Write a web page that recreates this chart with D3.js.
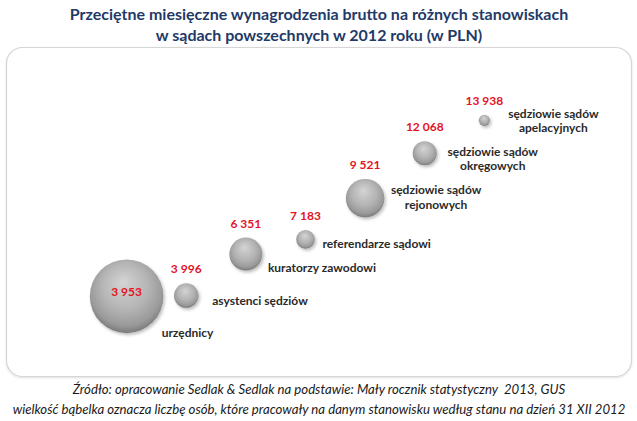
<!DOCTYPE html>
<html>
<head>
<meta charset="utf-8">
<script src="https://cdn.jsdelivr.net/npm/d3@7"></script>
<style>
  html, body { margin: 0; padding: 0; background: #ffffff; }
  svg { display: block; }
  text { white-space: pre; }
</style>
</head>
<body>
<script>
// ---------------- DATA ----------------
const categories = [
  "urzędnicy",
  "asystenci sędziów",
  "kuratorzy zawodowi",
  "referendarze sądowi",
  "sędziowie sądów\nrejonowych",
  "sędziowie sądów\nokręgowych",
  "sędziowie sądów\napelacyjnych"
];
const wages = [3953, 3996, 6351, 7183, 9521, 12068, 13938];          // PLN (y)
const headcounts = [23300, 2600, 4700, 1500, 6400, 2500, 540];      // bubble size (persons, estimated)
const titleLines = [
  "Przeciętne miesięczne wynagrodzenia brutto na różnych stanowiskach",
  "w sądach powszechnych w 2012 roku (w PLN)"
];
const footerLines = [
  "Źródło: opracowanie Sedlak & Sedlak na podstawie: Mały rocznik statystyczny  2013, GUS",
  "wielkość bąbelka oznacza liczbę osób, które pracowały na danym stanowisku według stanu na dzień 31 XII 2012"
];

// ---------------- LAYOUT (label placement relative to bubbles) ----------------
const catLabelLayout = [
  {anchor: "start",  dx: 35, dy: 36},
  {anchor: "start",  dx: 26, dy: 5},
  {anchor: "start",  dx: 22, dy: 14},
  {anchor: "start",  dx: 17, dy: 4},
  {anchor: "middle", dx: 71, dy: -8},
  {anchor: "middle", dx: 68, dy: -2},
  {anchor: "middle", dx: 69, dy: -7}
];

const W = 637, H = 421;
const svg = d3.select("body").append("svg").attr("width", W).attr("height", H);
const FONT = "Lato, 'Open Sans', sans-serif";

const defs = svg.append("defs");
const grad = defs.append("radialGradient").attr("id", "ball")
  .attr("cx", "50%").attr("cy", "42%").attr("r", "58%").attr("fx", "45%").attr("fy", "30%");
grad.append("stop").attr("offset", "0%").attr("stop-color", "#d4d4d4");
grad.append("stop").attr("offset", "55%").attr("stop-color", "#b4b4b4");
grad.append("stop").attr("offset", "85%").attr("stop-color", "#9a9a9a");
grad.append("stop").attr("offset", "100%").attr("stop-color", "#7a7a7a");

const sh = defs.append("filter").attr("id", "shadow").attr("x", "-30%").attr("y", "-30%").attr("width", "160%").attr("height", "160%");
sh.append("feDropShadow").attr("dx", 1.5).attr("dy", 2).attr("stdDeviation", 1.5).attr("flood-color", "#000").attr("flood-opacity", 0.25);

const psh = defs.append("filter").attr("id", "pshadow").attr("x", "-5%").attr("y", "-5%").attr("width", "110%").attr("height", "110%");
psh.append("feDropShadow").attr("dx", 0).attr("dy", 1).attr("stdDeviation", 1.2).attr("flood-color", "#000").attr("flood-opacity", 0.12);

// Title
svg.append("g").selectAll("text").data(titleLines).join("text")
  .attr("x", 319).attr("y", (d, i) => 19.5 + i * 21)
  .attr("text-anchor", "middle")
  .attr("font-family", FONT).attr("font-weight", "bold").attr("font-size", 16)
  .attr("fill", "#1f3a68")
  .text(d => d);

// Panel
svg.append("rect")
  .attr("x", 6.5).attr("y", 47.5).attr("width", 625).attr("height", 329)
  .attr("rx", 16).attr("ry", 16)
  .attr("fill", "#ffffff").attr("stroke", "#d6d6d6").attr("stroke-width", 1.2)
  .attr("filter", "url(#pshadow)");

// Scales
const x = d3.scaleLinear().domain([0, categories.length + 1]).range([67, 544]);
const y = d3.scaleLinear().domain([0, 16000]).range([366, 84]);
const r = d3.scaleSqrt().domain([0, d3.max(headcounts)]).range([0, 36.8]);

const pts = categories.map((c, i) => ({
  cat: c, wage: wages[i], n: headcounts[i], i,
  cx: x(i + 1), cy: y(wages[i]), rr: r(headcounts[i])
}));

// Bubbles
svg.append("g").selectAll("circle").data(pts).join("circle")
  .attr("cx", d => d.cx).attr("cy", d => d.cy).attr("r", d => d.rr)
  .attr("fill", "url(#ball)").attr("filter", "url(#shadow)");

// Value labels
const loc = d3.formatLocale({decimal: ",", thousands: "\u00a0", grouping: [3], currency: ["", " zł"]});
const fmt = loc.format(",d");
svg.append("g").selectAll("text").data(pts).join("text")
  .attr("x", d => d.cx)
  .attr("y", d => d.rr > 30 ? d.cy - 5 : d.cy - d.rr - 14)
  .attr("dy", "0.35em")
  .attr("text-anchor", "middle")
  .attr("font-family", FONT).attr("font-weight", "bold").attr("font-size", 12)
  .attr("fill", "#e3141f")
  .text(d => fmt(d.wage));

// Category labels
const cl = svg.append("g").selectAll("text").data(pts).join("text")
  .attr("text-anchor", d => catLabelLayout[d.i].anchor)
  .attr("font-family", FONT).attr("font-weight", "bold").attr("font-size", 12)
  .attr("fill", "#2a2a2a");
cl.each(function(d) {
  const L = catLabelLayout[d.i];
  const lines = d.cat.split("\n");
  d3.select(this).selectAll("tspan").data(lines).join("tspan")
    .attr("x", d.cx + L.dx)
    .attr("y", (t, k) => d.cy + L.dy + k * 14.5)
    .attr("dy", "0.35em")
    .text(t => t);
});

// Footer
svg.append("g").selectAll("text").data(footerLines).join("text")
  .attr("x", 319).attr("y", (d, i) => 394 + i * 20)
  .attr("text-anchor", "middle")
  .attr("font-family", FONT).attr("font-style", "italic").attr("font-size", 13.2)
  .attr("fill", "#1a1a1a")
  .text(d => d);
</script>
</body>
</html>
